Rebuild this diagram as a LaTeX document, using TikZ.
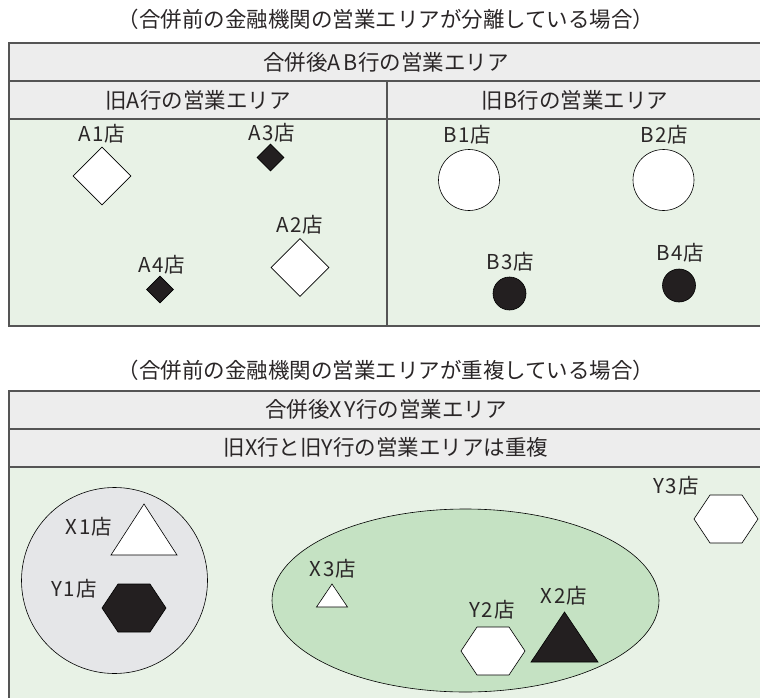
\documentclass[tikz,border=0pt]{standalone}
\usepackage{fontspec}
\setmainfont{Noto Sans CJK JP}
\usetikzlibrary{shapes.geometric}
\definecolor{hdrfill}{HTML}{EDEDED}
\definecolor{areafill}{HTML}{E8F2E6}
\definecolor{ovalfill}{HTML}{C5E2C3}
\definecolor{circfill}{HTML}{E5E6E8}
\definecolor{txtcol}{HTML}{2A2627}
\definecolor{shpcol}{HTML}{231F20}
\definecolor{bordercol}{HTML}{555555}
\tikzset{
  frame/.style={draw=bordercol, line width=1.4pt},
  hdr/.style={font=\fontsize{21.5}{24}\selectfont, text=txtcol},
  ttl/.style={font=\fontsize{21.5}{24}\selectfont, text=txtcol},
  lbl/.style={font=\fontsize{20.5}{24}\selectfont, text=txtcol},
  shp/.style={draw=black, line width=0.6pt},
  wdia/.style={shp, diamond, fill=white, inner sep=0pt, minimum width=58pt, minimum height=58pt},
  bdia/.style={shp, diamond, fill=shpcol, inner sep=0pt, minimum width=27pt, minimum height=27pt},
  wcirc/.style={shp, circle, fill=white, inner sep=0pt, minimum size=61pt},
  bcirc/.style={shp, circle, fill=shpcol, inner sep=0pt, minimum size=33pt},
}
\newcommand\shopname[2]{#1\kern1.5pt#2\kern1pt 店}
\newcommand\myhex[4]{% name, x, y, fill
  \filldraw[shp, fill=#4] (#2-32,#3) -- (#2-16,#3-24) -- (#2+16,#3-24) -- (#2+32,#3) -- (#2+16,#3+24) -- (#2-16,#3+24) -- cycle;
  \coordinate (#1) at (#2,#3);}
\newcommand\mytri[6]{% name, apex x, apex y, half width, height, fill
  \filldraw[shp, fill=#6] (#2,#3) -- (#2+#4,#3+#5) -- (#2-#4,#3+#5) -- cycle;
  \coordinate (#1) at (#2,#3);}
\begin{document}
\begin{tikzpicture}[x=1pt,y=-1pt]
\useasboundingbox (0,0) rectangle (760,698);
% ---------- top panel ----------
\node[ttl] (t1) at (386,19) {（合併前の金融機関の営業エリアが分離している場合）};
\fill[areafill] (9,119) rectangle (765,326);
\fill[hdrfill] (9,43) rectangle (765,119);
\draw[frame] (765,43) -- (9,43) -- (9,326) -- (765,326);
\draw[frame] (9,81) -- (765,81);
\draw[frame] (9,119) -- (765,119);
\draw[frame] (387,81) -- (387,326);
\node[hdr] (h1) at (386,62) {合併後A\kern3pt B行の営業エリア};
\node[hdr] (h2) at (198,100) {旧A行の営業エリア};
\node[hdr] (h3) at (575,100) {旧B行の営業エリア};
% A shops
\node[wdia] (a1) at (102,176) {};
\node[lbl] (a1l) at (102,134) {\shopname{A}{1}};
\node[bdia] (a3) at (270.5,157.5) {};
\node[lbl] (a3l) at (272,133) {\shopname{A}{3}};
\node[wdia] (a2) at (300,267.5) {};
\node[lbl] (a2l) at (300,225) {\shopname{A}{2}};
\node[bdia] (a4) at (160,289.5) {};
\node[lbl] (a4l) at (162,265) {\shopname{A}{4}};
% B shops
\node[wcirc] (b1) at (469,180) {};
\node[lbl] (b1l) at (467,135) {\shopname{B}{1}};
\node[wcirc] (b2) at (663.5,180) {};
\node[lbl] (b2l) at (664,135) {\shopname{B}{2}};
\node[bcirc] (b3) at (509.5,293.5) {};
\node[lbl] (b3l) at (510,262) {\shopname{B}{3}};
\node[bcirc] (b4) at (679,285.5) {};
\node[lbl] (b4l) at (680,253) {\shopname{B}{4}};
% ---------- bottom panel ----------
\node[ttl] (t2) at (386,370) {（合併前の金融機関の営業エリアが重複している場合）};
\fill[areafill] (9,467) rectangle (765,700);
\fill[hdrfill] (9,391) rectangle (765,467);
\draw[frame] (765,391) -- (9,391) -- (9,700);
\draw[frame] (9,429) -- (765,429);
\draw[frame] (9,467) -- (765,467);
\node[hdr] (h4) at (386,409) {合併後X\kern3pt Y行の営業エリア};
\node[hdr] (h5) at (386,447) {旧X行と旧Y行の営業エリアは重複};
% areas
\node[shp, circle, fill=circfill, inner sep=0pt, minimum size=186pt] (xy1) at (114.5,580.5) {};
\node[shp, ellipse, fill=ovalfill, inner sep=0pt, minimum width=387pt, minimum height=183pt] (xy2) at (465.5,600.5) {};
% shops
\mytri{x1}{144}{504}{33}{51}{white}
\node[lbl] (x1l) at (89,527) {\shopname{X}{1}};
\myhex{y1}{134}{608}{shpcol}
\node[lbl] (y1l) at (74,589) {\shopname{Y}{1}};
\mytri{x3}{332}{584}{15.5}{23}{white}
\node[lbl] (x3l) at (333,569) {\shopname{X}{3}};
\myhex{y2}{493}{651}{white}
\node[lbl] (y2l) at (492,610) {\shopname{Y}{2}};
\mytri{x2}{564.5}{612}{33.5}{50}{shpcol}
\node[lbl] (x2l) at (564,596) {\shopname{X}{2}};
\myhex{y3}{726}{519}{white}
\node[lbl] (y3l) at (676,486) {\shopname{Y}{3}};
\end{tikzpicture}
\end{document}
